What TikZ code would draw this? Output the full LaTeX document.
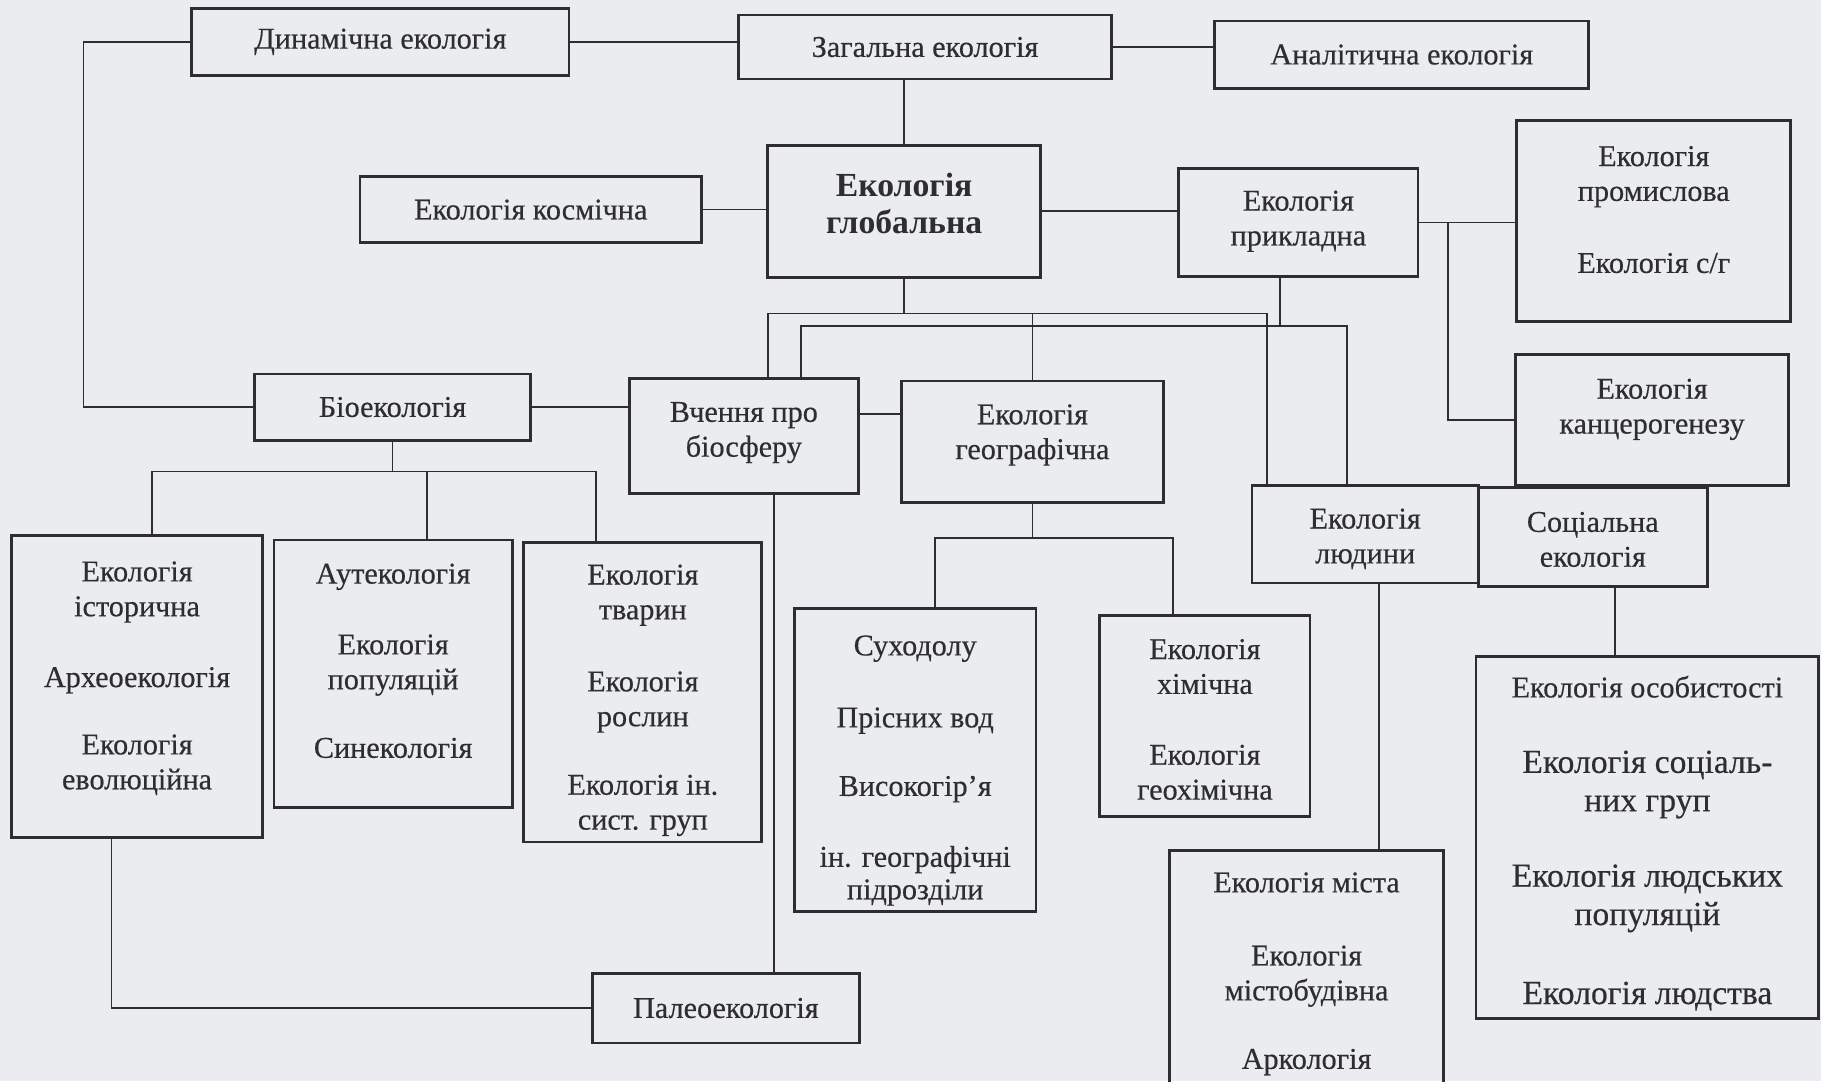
\documentclass[tikz,border=0pt]{standalone}
\usepackage{fontspec}
\setmainfont{Liberation Serif}
\usetikzlibrary{positioning}
\definecolor{page}{RGB}{234,236,239}
\definecolor{ink}{RGB}{45,45,50}

\begin{document}
\begin{tikzpicture}[x=1pt,y=-1pt,line width=1.5pt,color=ink]
 \tikzstyle{eco node}=[rectangle,draw=ink,line width=2.4pt,inner sep=0,align=center,font=\fontsize{26}{30}\selectfont\addfontfeatures{FakeBold=0.4}]
 \tikzstyle{eco text}=[inner sep=0,align=center,font=\fontsize{26}{30}\selectfont\addfontfeatures{FakeBold=0.4}]
 \tikzstyle{main text}=[eco text,font=\fontsize{29}{32}\selectfont\bfseries]
 \tikzstyle{wide text}=[eco text,font=\fontsize{29}{33}\selectfont\addfontfeatures{FakeBold=0.4}]

 \fill[page] (0,0) rectangle (1568,931);
 \useasboundingbox (0,0) rectangle (1568,931);

 % top row
 \node[eco node,minimum width=325pt,minimum height=58pt] (dyn) at (327.5,36) {Динамічна екологія};
 \node[eco node,minimum width=321pt,minimum height=55pt] (gen) at (796.5,40.5) {Загальна екологія};
 \node[eco node,minimum width=322pt,minimum height=58pt] (anal) at (1207,47) {Аналітична екологія};

 % second row
 \node[eco node,minimum width=294pt,minimum height=57pt] (cosm) at (457,180.5) {Екологія космічна};
 \node[eco node,minimum width=235pt,minimum height=114pt,
   label={[main text,yshift=7pt]center:{Екологія\\глобальна}}] (glob) at (778.5,182) {};
 \node[eco node,minimum width=206pt,minimum height=93pt,
   label={[eco text,yshift=1pt]center:{Екологія\\прикладна}}] (appl) at (1118,191.5) {};
 \node[eco node,minimum width=236pt,minimum height=173pt,
   label={[eco text,yshift=10pt]center:{Екологія\\промислова\\[32pt]Екологія с/г}}] (ind) at (1424,190.5) {};
 \node[eco node,minimum width=235pt,minimum height=113pt,
   label={[eco text,yshift=9pt]center:{Екологія\\канцерогенезу}}] (canc) at (1422.5,361.5) {};

 % third row
 \node[eco node,minimum width=238pt,minimum height=57pt] (bio) at (338,350.5) {Біоекологія};
 \node[eco node,minimum width=197pt,minimum height=99pt,
   label={[eco text,yshift=3pt]center:{Вчення про\\біосферу}}] (bios) at (640.5,375.5) {};
 \node[eco node,minimum width=226pt,minimum height=105pt,
   label={[eco text,yshift=6pt]center:{Екологія\\географічна}}] (geo) at (889,380.5) {};
 \node[eco node,minimum width=195pt,minimum height=84pt,
   label={[eco text,yshift=-4pt]center:{Екологія\\людини}}] (hum) at (1175.5,460) {};
 \node[eco node,minimum width=197pt,minimum height=85pt,
   label={[eco text,yshift=-2pt]center:{Соціальна\\екологія}}] (soc) at (1371.5,462.5) {};

 % lower boxes
 \node[eco node,minimum width=216pt,minimum height=260pt,
   label={[eco text,yshift=7pt]center:{Екологія\\історична\\[31pt]Археоекологія\\[28pt]Екологія\\еволюційна}}] (hist) at (118,591) {};
 \node[eco node,minimum width=205pt,minimum height=230pt,
   label={[eco text,yshift=11pt]center:{Аутекологія\\[31pt]Екологія\\популяцій\\[29pt]Синекологія}}] (aut) at (338.5,580) {};
 \node[eco node,minimum width=205pt,minimum height=258pt,
   label={[eco text,yshift=-7pt]center:{Екологія\\тварин\\[32pt]Екологія\\рослин\\[29pt]Екологія ін.\\сист. груп}}] (anim) at (553.5,596) {};
 \node[eco node,minimum width=208pt,minimum height=261pt,
   label={[eco text,yshift=-9pt]center:{Суходолу\\[32pt]Прісних вод\\[29pt]Високогір’я\\[31pt]ін. географічні\\[-2pt]підрозділи}}] (land) at (788,654.5) {};
 \node[eco node,minimum width=181pt,minimum height=173pt,
   label={[eco text,yshift=-3pt]center:{Екологія\\хімічна\\[31pt]Екологія\\геохімічна}}] (chem) at (1037.5,616.5) {};
 \node[eco node,minimum width=295pt,minimum height=312pt,
   label={[wide text,yshift=-5pt]center:{{\fontsize{26}{30}\selectfont Екологія особистості}\\[32pt]Екологія соціаль-\\них груп\\[32pt]Екологія людських\\популяцій\\[35pt]Екологія людства}}] (pers) at (1418.5,721) {};
 \node[eco node,minimum width=236pt,minimum height=213pt,
   label={[eco text]center:{Екологія міста\\[33pt]Екологія\\містобудівна\\[29pt]Аркологія}}] (city) at (1125,838.5) {};
 \node[eco node,minimum width=230pt,minimum height=60pt] (paleo) at (625,868) {Палеоекологія};

 % junction points
 \coordinate (lb) at (72,36);
 \coordinate (cj) at (1247,191.5);
 \coordinate (g1) at (661,270);
 \coordinate (g2) at (1091,270);
 \coordinate (a1) at (690,281);
 \coordinate (a2) at (1160,281);
 \coordinate (t1) at (131,406);
 \coordinate (t2) at (513,406);
 \coordinate (s1) at (805,463);
 \coordinate (s2) at (1010,463);

 % connectors
 \draw (dyn.east) -- (dyn.east -| gen.west);
 \draw (gen.east) -- (gen.east -| anal.west);
 \draw (glob.north) -- (glob.north |- gen.south);
 \draw (cosm.east) -- (cosm.east -| glob.west);
 \draw (glob.east) -- (glob.east -| appl.west);
 \draw (appl.east) -- (appl.east -| ind.west);
 \draw (cj) |- (canc.west);
 \draw (dyn.west) -- (lb) |- (bio.west);
 \draw (bio.east) -- (bio.east -| bios.west);
 \draw ([yshift=19pt]bios.east) -- ([yshift=19pt]bios.east -| geo.west);

 \draw (glob.south) -- (glob.south |- g1);
 \draw (g1 |- bios.north) -- (g1) -- (g2) -- (g2 |- hum.north);
 \draw (geo.north) -- (geo.north |- g1);
 \draw (a1 |- bios.north) -- (a1) -- (a2) -- (a2 |- hum.north);
 \draw ([xshift=-16pt]appl.south) -- ([xshift=-16pt]appl.south |- a1);

 \draw (bio.south) -- (bio.south |- t1);
 \draw (t1 |- hist.north) -- (t1) -- (t2) -- (t2 |- anim.north);
 \draw ([xshift=29pt]aut.north) -- ([xshift=29pt]aut.north |- t1);
 \draw ([xshift=26pt]bios.south) -- ([xshift=26pt]bios.south |- paleo.north);
 \draw ([xshift=-22pt]hist.south) |- (paleo.west);

 \draw (geo.south) -- (geo.south |- s1);
 \draw (s1 |- land.north) -- (s1) -- (s2) -- (s2 |- chem.north);
 \draw ([xshift=12pt]hum.south) -- ([xshift=12pt]hum.south |- city.north);
 \draw ([xshift=19pt]soc.south) -- ([xshift=19pt]soc.south |- pers.north);
\end{tikzpicture}
\end{document}
